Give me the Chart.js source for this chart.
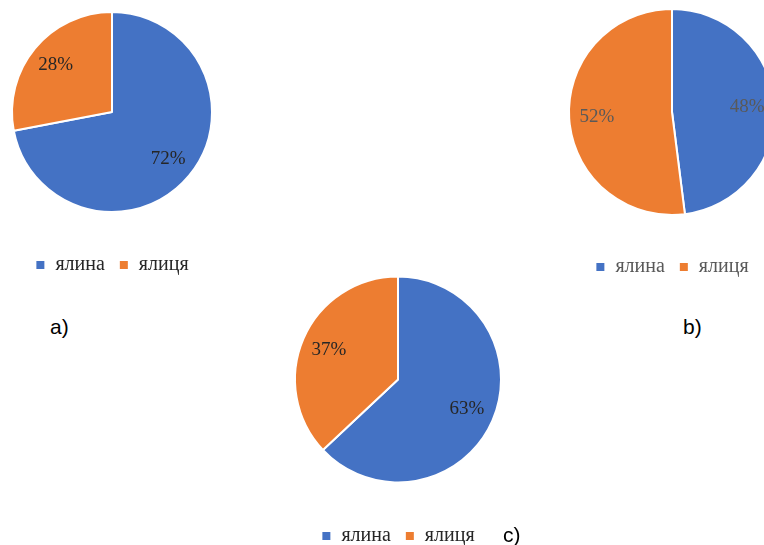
<!DOCTYPE html>
<html>
<head>
<meta charset="utf-8">
<script src="https://cdn.jsdelivr.net/npm/chart.js@4/dist/chart.umd.min.js"></script>
<style>
  html, body { margin: 0; padding: 0; background: #fff; }
  body { width: 764px; height: 545px; overflow: hidden; position: relative; }
  canvas { position: absolute; }
  .tag { position: absolute; font-family: "Liberation Sans", Arial, sans-serif; font-size: 21px; color: #000; line-height: 1; }
</style>
</head>
<body>
<canvas id="pieA" width="224" height="310" style="left:0px; top:-25px"></canvas>
<canvas id="pieB" width="230" height="312" style="left:557px; top:-25px"></canvas>
<canvas id="pieC" width="230" height="331" style="left:283px; top:225px"></canvas>
<div class="tag" style="left:50px; top:316px">a)</div>
<div class="tag" style="left:683px; top:316px">b)</div>
<div class="tag" style="left:503px; top:524px">c)</div>
<script>
// species
const species = ["ялина", "ялиця"];

// share of each species, %
const valuesA = [72, 28];
const valuesB = [48, 52];
const valuesC = [63, 37];

const sliceColors = ["#4472C4", "#ED7D31"];

// percent labels inside the slices
const pctLabels = {
    id: "pctLabels",
    afterDatasetsDraw(chart, args, opts) {
        const ctx = chart.ctx;
        const meta = chart.getDatasetMeta(0);
        const data = chart.data.datasets[0].data;
        ctx.save();
        ctx.font = "19px 'Liberation Serif', 'Times New Roman', serif";
        ctx.fillStyle = opts.color || "#1a1a1a";
        ctx.textAlign = "center";
        ctx.textBaseline = "middle";
        meta.data.forEach((arc, i) => {
            const p = arc.getProps(["x", "y", "startAngle", "endAngle", "outerRadius"], true);
            const mid = (p.startAngle + p.endAngle) / 2;
            const r = p.outerRadius * 0.73;
            ctx.fillText(data[i] + "%", p.x + Math.cos(mid) * r, p.y + Math.sin(mid) * r);
        });
        ctx.restore();
    }
};

function makePie(id, values, radius, padTop, textColor) {
    new Chart(document.getElementById(id), {
        type: "pie",
        data: {
            labels: species,
            datasets: [{
                data: values,
                backgroundColor: sliceColors,
                borderColor: "#ffffff",
                borderWidth: 2,
                radius: radius
            }]
        },
        options: {
            responsive: false,
            devicePixelRatio: 1,
            animation: false,
            layout: { padding: { top: padTop } },
            plugins: {
                tooltip: { enabled: false },
                pctLabels: { color: textColor },
                legend: {
                    position: "bottom",
                    labels: {
                        boxWidth: 10,
                        boxHeight: 10,
                        padding: 14,
                        color: textColor,
                        font: { family: "'Liberation Serif', 'Times New Roman', serif", size: 20 }
                    }
                }
            }
        },
        plugins: [pctLabels]
    });
}

makePie("pieA", valuesA, 100, 8, "#262626");
makePie("pieB", valuesB, 103, 6, "#595959");
makePie("pieC", valuesC, 103, 22, "#262626");
</script>
</body>
</html>
